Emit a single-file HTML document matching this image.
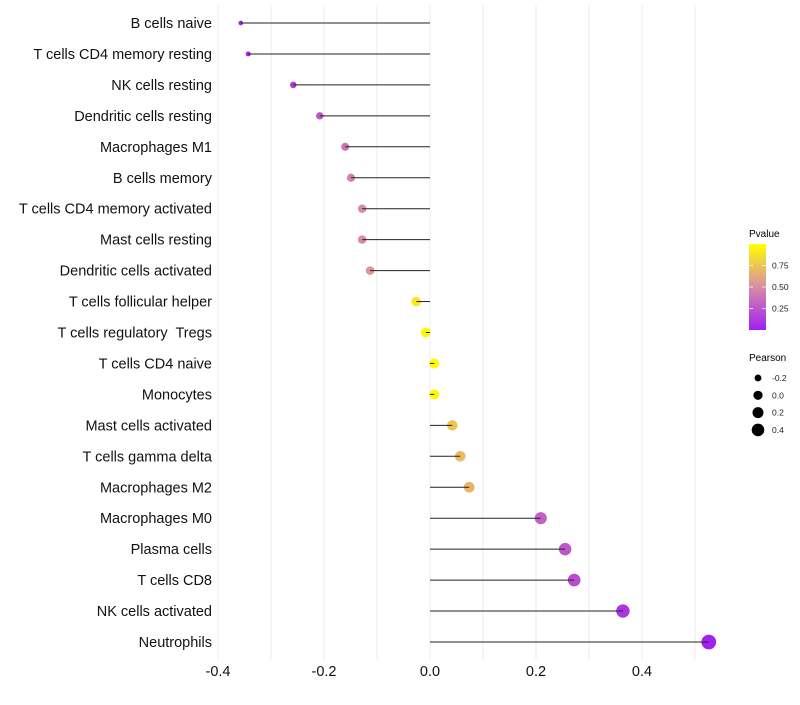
<!DOCTYPE html>
<html><head><meta charset="utf-8"><style>
body{margin:0;background:#fff;font-family:"Liberation Sans",sans-serif}
</style></head><body>
<svg id="chart" width="800" height="700" xmlns="http://www.w3.org/2000/svg" style="font-family:'Liberation Sans',sans-serif">
<defs><linearGradient id="pg" x1="0" y1="1" x2="0" y2="0">
<stop offset="0" stop-color="#a020f0"/><stop offset="0.5" stop-color="#d98ca6"/><stop offset="1" stop-color="#ffff00"/></linearGradient></defs>
<g id="grid"></g>
<g id="marks"></g>
<g id="ylab"></g>
<g id="xlab"></g>
<g>
<text x="749" y="237" font-size="10">Pvalue</text>
<rect x="749" y="244" width="17" height="86" fill="url(#pg)"/>
<g id="cbt"></g>
</g>
<g id="sizeleg">
<text x="749" y="361" font-size="10">Pearson</text>
</g>
</svg>
<script>
const categories=["B cells naive","T cells CD4 memory resting","NK cells resting","Dendritic cells resting","Macrophages M1","B cells memory","T cells CD4 memory activated","Mast cells resting","Dendritic cells activated","T cells follicular helper","T cells regulatory\u00a0 Tregs","T cells CD4 naive","Monocytes","Mast cells activated","T cells gamma delta","Macrophages M2","Macrophages M0","Plasma cells","T cells CD8","NK cells activated","Neutrophils"];
const pearson=[-0.357,-0.343,-0.258,-0.208,-0.160,-0.149,-0.128,-0.128,-0.113,-0.026,-0.008,0.008,0.008,0.042,0.057,0.074,0.209,0.255,0.272,0.364,0.526];
const pvalues=[0.02,0.03,0.12,0.25,0.40,0.45,0.50,0.50,0.55,0.90,0.97,0.98,0.98,0.75,0.70,0.68,0.30,0.25,0.20,0.10,0.01];
const xTicks=[-0.4,-0.2,0.0,0.2,0.4];
const cbTicks=[0.25,0.50,0.75];
const sizeTicks=[-0.2,0.0,0.2,0.4];
const NS="http://www.w3.org/2000/svg";
const X=v=>430+v*530;
const Y=i=>23+i*30.95;
const R=p=>Math.sqrt(Math.max(2,25+55*p));
function col(t){const a=[160,32,240],m=[217,140,166],b=[255,255,0];let s,e,f;
 if(t<0.5){s=a;e=m;f=t/0.5}else{s=m;e=b;f=(t-0.5)/0.5}
 return `rgb(${s.map((c,i)=>Math.round(c+(e[i]-c)*f)).join(',')})`;}
function el(tag,attrs,parent){const e=document.createElementNS(NS,tag);for(const k in attrs)e.setAttribute(k,attrs[k]);parent.appendChild(e);return e;}
const grid=document.getElementById('grid');
for(let v=-0.4;v<=0.56;v+=0.1){const l=el('line',{x1:X(v),x2:X(v),y1:5,y2:660,stroke:'#ebebeb','stroke-width':1},grid);

}
const marks=document.getElementById('marks'),ylab=document.getElementById('ylab');
categories.forEach((c,i)=>{
 const ci=el('circle',{cx:X(pearson[i]),cy:Y(i),r:R(pearson[i]),fill:col(pvalues[i])},marks);
 
 
 const ln=el('line',{x1:X(0),x2:X(pearson[i]),y1:Y(i),y2:Y(i),stroke:'#222','stroke-width':1},marks);
 
 
 const t=el('text',{x:212,y:Y(i)+5,'text-anchor':'end','font-size':14.5,fill:'#111'},ylab);t.textContent=c;
 
 
});
const xlab=document.getElementById('xlab');
xTicks.forEach(v=>{const t=el('text',{x:X(v),y:676,'text-anchor':'middle','font-size':14.5,fill:'#111'},xlab);t.textContent=v.toFixed(1);
 
 });
const cbt=document.getElementById('cbt');
cbTicks.forEach(v=>{const y=330-v*86;
 const l=el('line',{x1:749,x2:753,y1:y,y2:y,stroke:'#fff','stroke-width':0.7},cbt);
 
 
 const l2=el('line',{x1:762,x2:766,y1:y,y2:y,stroke:'#fff','stroke-width':0.7},cbt);
 
 
 const t=el('text',{x:772,y:y+3,'font-size':8.5,fill:'#222'},cbt);t.textContent=v.toFixed(2);
 
 });
const sl=document.getElementById('sizeleg');
sizeTicks.forEach((v,i)=>{const y=378+i*17.3;
 const c=el('circle',{cx:758,cy:y,r:R(v)*0.92,fill:'#000'},sl);
 
 
 const t=el('text',{x:772,y:y+3,'font-size':8.5,fill:'#222'},sl);t.textContent=v.toFixed(1);
 
 });
</script>
</body></html>
